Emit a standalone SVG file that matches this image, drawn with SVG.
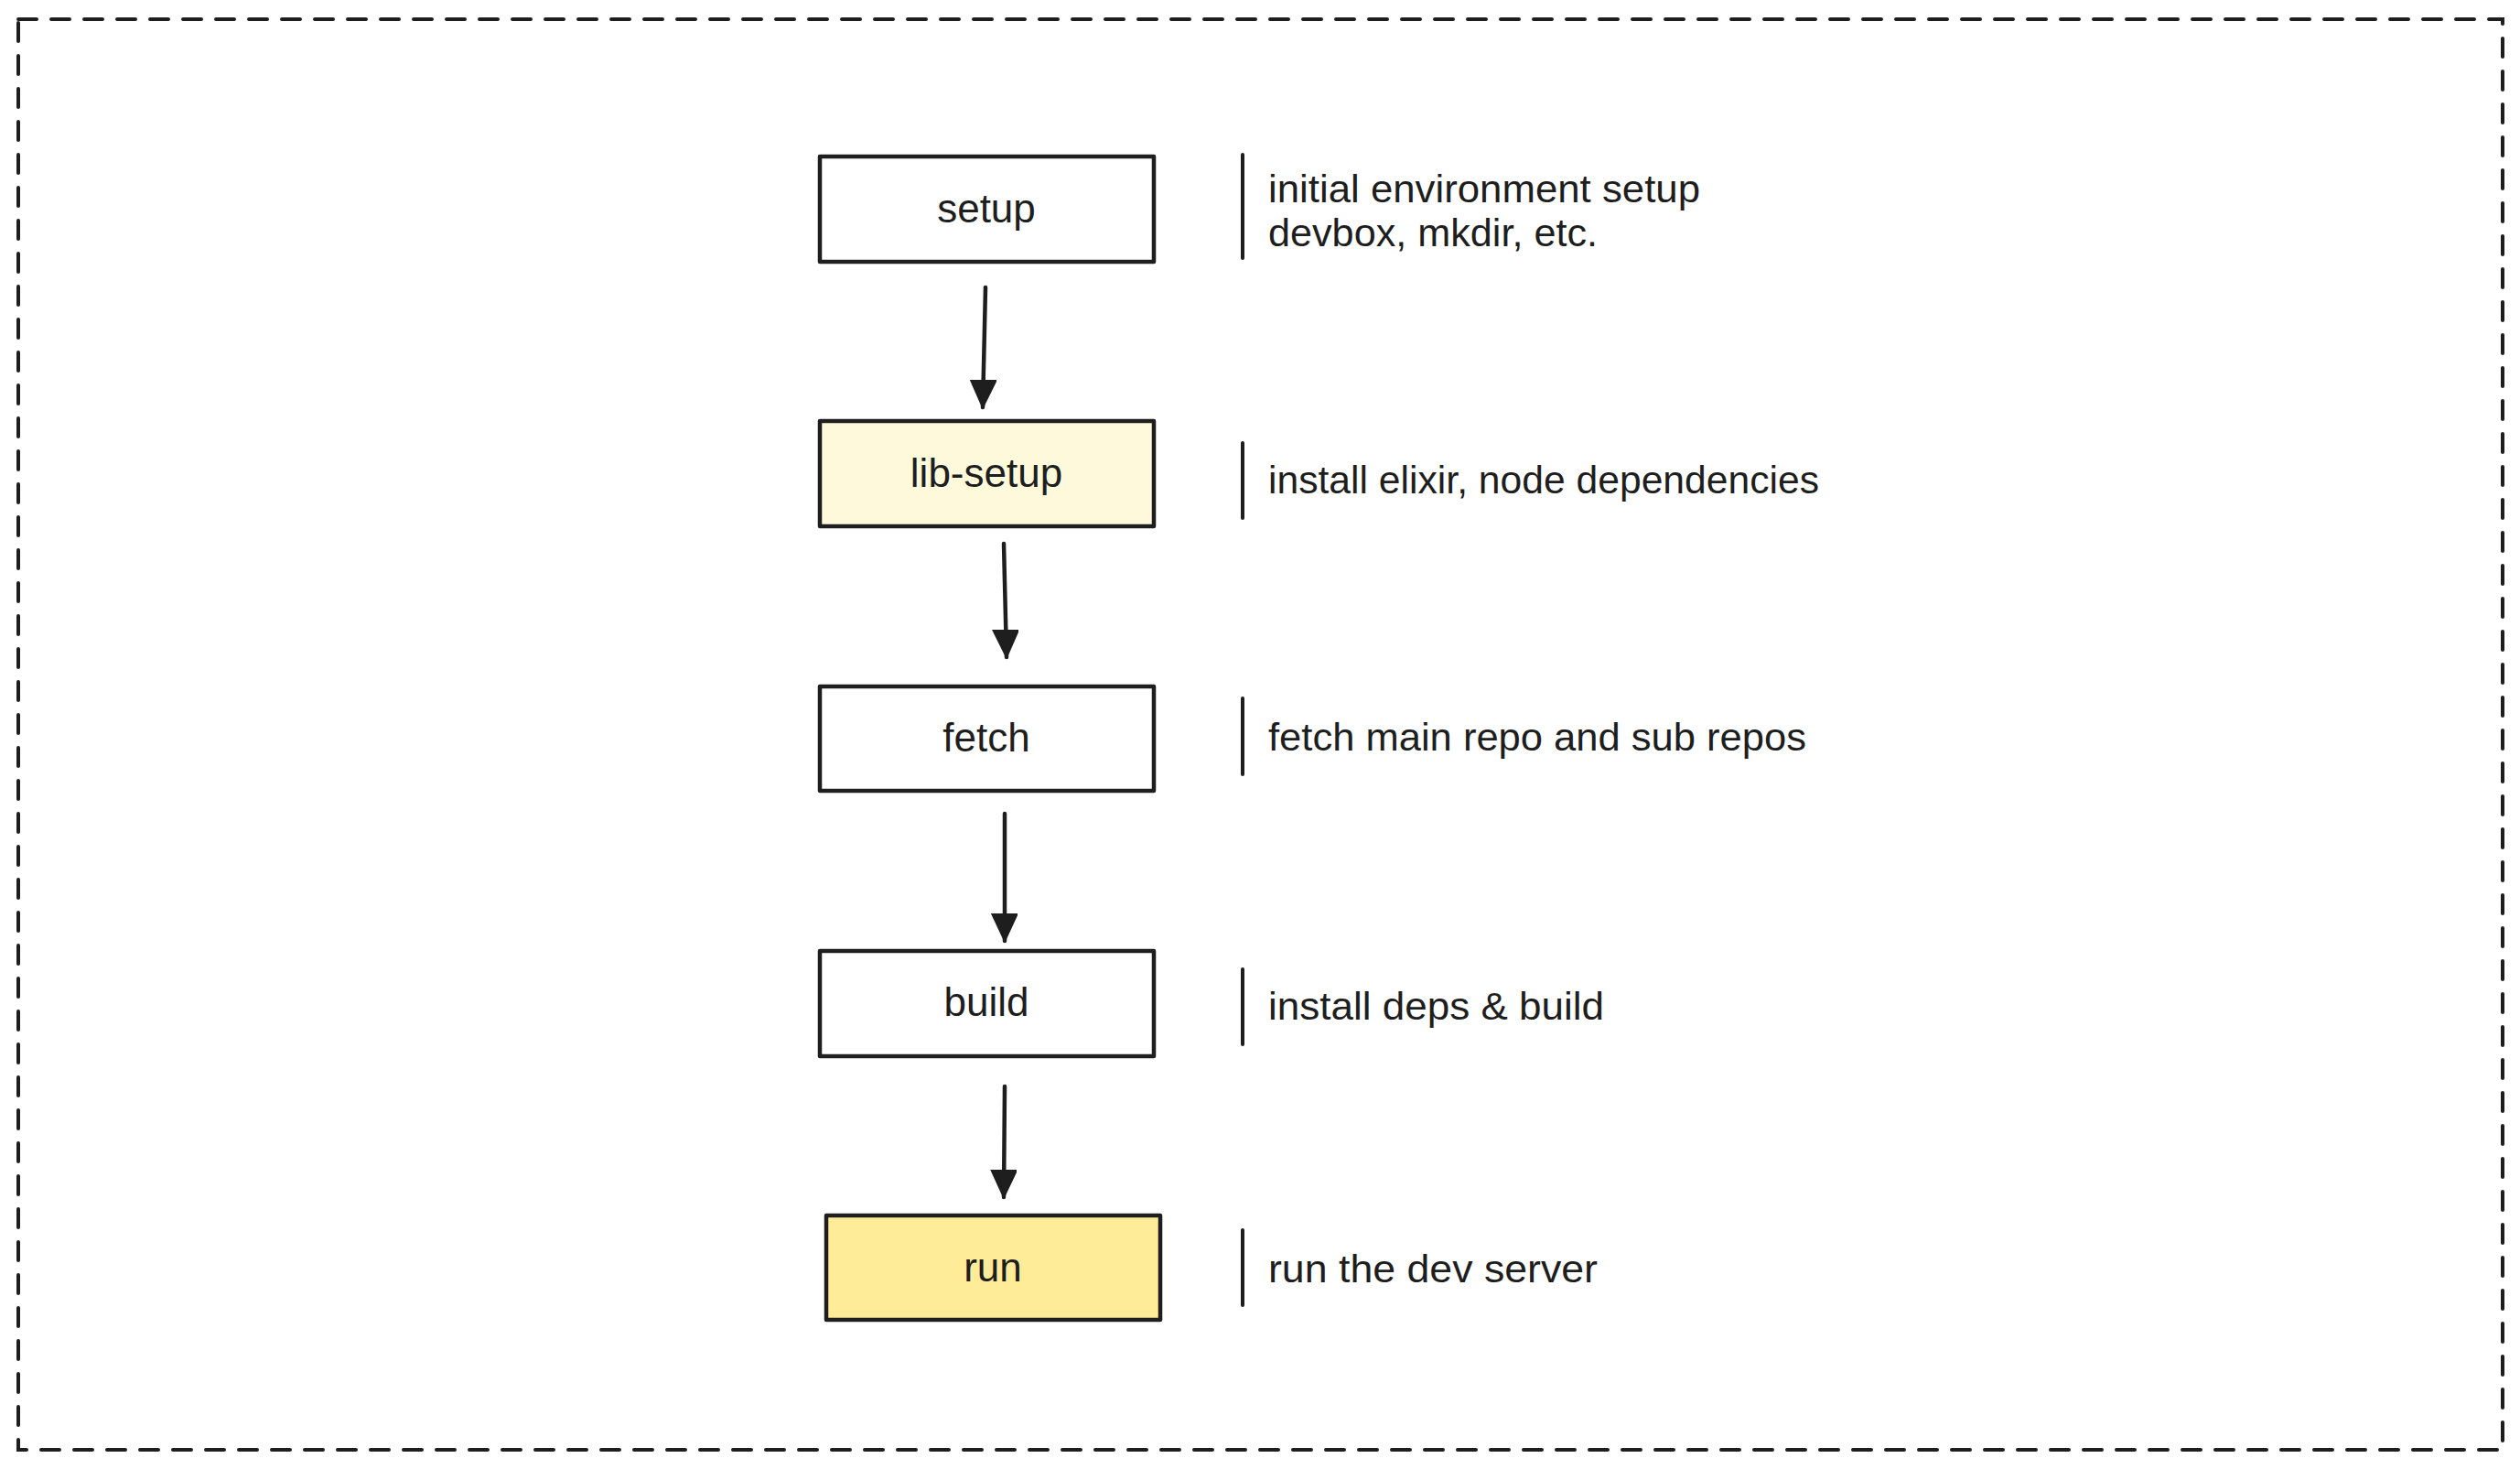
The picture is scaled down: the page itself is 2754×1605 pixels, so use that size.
<svg xmlns="http://www.w3.org/2000/svg" width="2754" height="1605" viewBox="0 0 2754 1605">
<style>
.box{stroke:#1e1e1e;stroke-width:4.5;stroke-linejoin:round}
.lbl{font-family:"Liberation Sans",Arial,sans-serif;font-size:44px;fill:#1e1e1e;text-anchor:middle}
.desc{font-family:"Liberation Sans",Arial,sans-serif;font-size:43px;fill:#1e1e1e}
.sep{stroke:#1e1e1e;stroke-width:4;stroke-linecap:round}
.conn{stroke:#1e1e1e;stroke-width:4.5;stroke-linecap:round;fill:none}
</style>
<defs>
<marker id="ah" markerUnits="userSpaceOnUse" markerWidth="32" markerHeight="40" refX="30" refY="14" orient="auto">
<path d="M0,0 L30,14 L0,28 Z" fill="#1e1e1e" stroke="#1e1e1e" stroke-width="2" stroke-linejoin="round"/>
</marker>
</defs>
<rect x="0" y="0" width="2754" height="1605" fill="#ffffff"/>
<rect id="frame" x="20" y="21" width="2715" height="1563" fill="none" stroke="#1e1e1e" stroke-width="4" stroke-dasharray="20 16" stroke-linecap="round"/>

<g id="setup">
<rect class="box" x="896" y="171" width="365" height="115" fill="#ffffff"/>
<text class="lbl" x="1078" y="243">setup</text>
</g>
<g id="lib-setup">
<rect class="box" x="896" y="460" width="365" height="115" fill="#fff9db"/>
<text class="lbl" x="1078" y="532">lib-setup</text>
</g>
<g id="fetch">
<rect class="box" x="896" y="750" width="365" height="114" fill="#ffffff"/>
<text class="lbl" x="1078" y="821">fetch</text>
</g>
<g id="build">
<rect class="box" x="896" y="1039" width="365" height="115" fill="#ffffff"/>
<text class="lbl" x="1078" y="1110">build</text>
</g>
<g id="run">
<rect class="box" x="903" y="1328" width="365" height="114" fill="#ffec99"/>
<text class="lbl" x="1085" y="1400">run</text>
</g>

<g id="desc-setup">
<line class="sep" x1="1358" y1="169" x2="1358" y2="282"/>
<text class="desc" x="1386" y="221" textLength="472" lengthAdjust="spacingAndGlyphs">initial environment setup</text>
<text class="desc" x="1386" y="269" textLength="360" lengthAdjust="spacingAndGlyphs">devbox, mkdir, etc.</text>
</g>
<g id="desc-lib-setup">
<line class="sep" x1="1358" y1="484" x2="1358" y2="566"/>
<text class="desc" x="1386" y="539" textLength="602" lengthAdjust="spacingAndGlyphs">install elixir, node dependencies</text>
</g>
<g id="desc-fetch">
<line class="sep" x1="1358" y1="763" x2="1358" y2="846"/>
<text class="desc" x="1386" y="820" textLength="588" lengthAdjust="spacingAndGlyphs">fetch main repo and sub repos</text>
</g>
<g id="desc-build">
<line class="sep" x1="1358" y1="1059" x2="1358" y2="1141"/>
<text class="desc" x="1386" y="1114" textLength="367" lengthAdjust="spacingAndGlyphs">install deps &amp; build</text>
</g>
<g id="desc-run">
<line class="sep" x1="1358" y1="1344" x2="1358" y2="1426"/>
<text class="desc" x="1386" y="1401" textLength="360" lengthAdjust="spacingAndGlyphs">run the dev server</text>
</g>

<g id="connectors">
<line class="conn" x1="1077" y1="314" x2="1074" y2="445" marker-end="url(#ah)"/>
<line class="conn" x1="1097" y1="594" x2="1100" y2="718" marker-end="url(#ah)"/>
<line class="conn" x1="1098" y1="889" x2="1098" y2="1028" marker-end="url(#ah)"/>
<line class="conn" x1="1098" y1="1187" x2="1097" y2="1308" marker-end="url(#ah)"/>
</g>
</svg>
